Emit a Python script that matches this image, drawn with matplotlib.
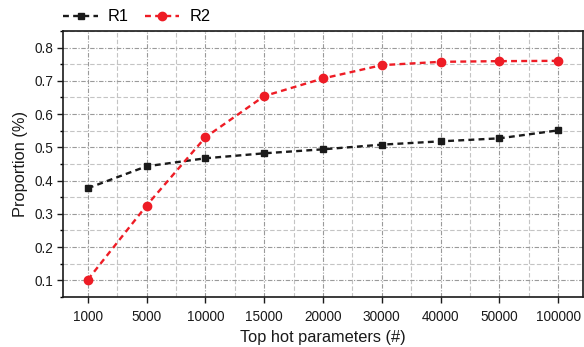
import matplotlib
matplotlib.use('Agg')
import matplotlib.pyplot as plt
from matplotlib.ticker import MultipleLocator, FixedLocator

categories = ['1000', '5000', '10000', '15000', '20000',
              '30000', '40000', '50000', '100000']
r1 = [0.377, 0.443, 0.467, 0.482, 0.494, 0.508, 0.518, 0.527, 0.551]
r2 = [0.102, 0.325, 0.530, 0.654, 0.707, 0.747, 0.757, 0.759, 0.760]

plt.rcParams['font.family'] = ['Liberation Sans', 'DejaVu Sans']

fig = plt.figure(figsize=(5.84, 3.47), dpi=100)
ax = fig.add_axes([0.108, 0.144, 0.890, 0.767])

xs = list(range(len(categories)))
ax.plot(xs, r1, linestyle=(0, (2.5, 1.8)), color='#1a1a1a', lw=1.7,
        marker='s', markersize=5, label='R1', zorder=3)
ax.plot(xs, r2, linestyle=(0, (2.5, 1.8)), color='#ee1c25', lw=1.7,
        marker='o', markersize=6, label='R2', zorder=3)

ax.set_xlim(-0.42, len(categories) - 1 + 0.42)
ax.set_ylim(0.05, 0.85)
ax.set_xticks(xs)
ax.set_xticklabels(categories)
ax.xaxis.set_minor_locator(FixedLocator([x + 0.5 for x in xs[:-1]]))
ax.yaxis.set_major_locator(MultipleLocator(0.1))
ax.yaxis.set_minor_locator(MultipleLocator(0.05))

ax.grid(which='major', color='#9a9a9a', linestyle=(0, (4, 1.5, 1, 1.5)), lw=0.8)
ax.grid(which='minor', color='#c4c4c4', linestyle=(0, (4, 2)), lw=0.8)
ax.set_axisbelow(True)

ax.tick_params(which='major', direction='out', length=4, width=1,
               labelsize=9.8, colors='#1a1a1a', pad=3)
ax.tick_params(axis='x', which='major', pad=5)
ax.tick_params(which='minor', direction='out', length=2.5, width=1)
ax.tick_params(axis='x', which='minor', length=0)
for s in ax.spines.values():
    s.set_color('#1a1a1a')
    s.set_linewidth(1.2)

ax.set_xlabel('Top hot parameters (#)', fontsize=11.8, color='#1a1a1a', labelpad=5)
ax.set_ylabel('Proportion (%)', fontsize=11.8, color='#1a1a1a', labelpad=5)

ax.legend(loc='lower left', bbox_to_anchor=(-0.012, 1.0), ncol=2, frameon=False,
          fontsize=11.8, handlelength=2.1, columnspacing=1.0, borderaxespad=0,
          handletextpad=0.6)

fig.savefig('out.png', dpi=100)
